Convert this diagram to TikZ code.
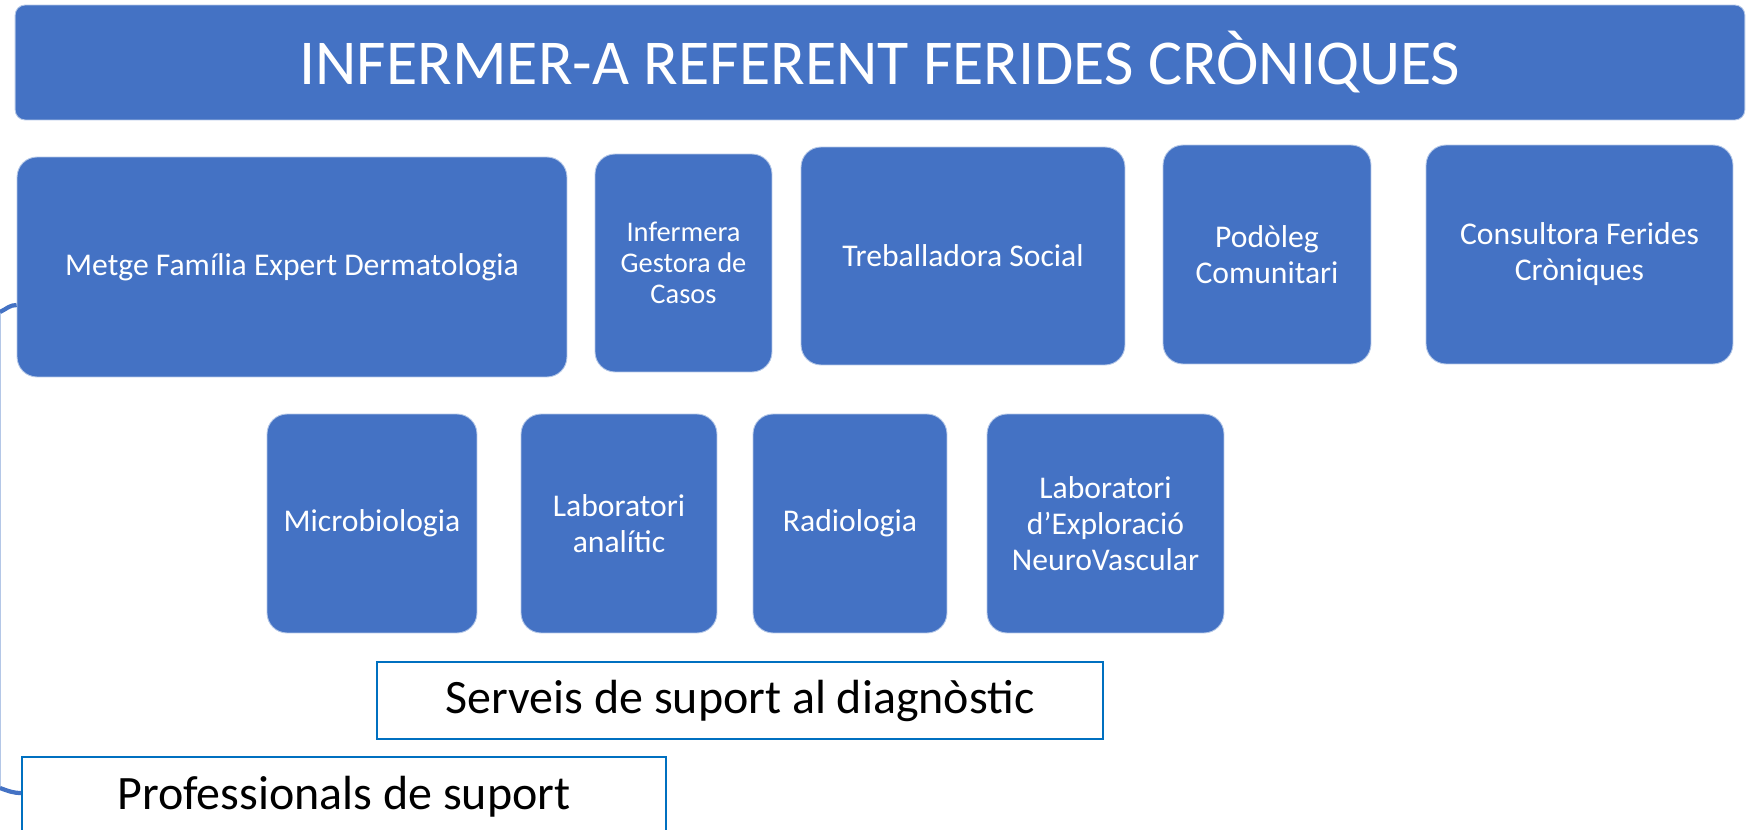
\documentclass[tikz,border=0pt]{standalone}
\usepackage{fontspec}
\setmainfont{Carlito}
\usetikzlibrary{positioning}
\definecolor{boxblue}{HTML}{4472C4}
\definecolor{edgeblue}{HTML}{0070C0}
\definecolor{paleblue}{HTML}{B4C7E7}

\begin{document}
\begin{tikzpicture}[x=0.02cm, y=-0.02cm,
  rolebox/.style={rectangle, rounded corners=0.4cm, draw=white!60!boxblue, line width=0.5pt, fill=boxblue, text=white, align=center, font=\fontsize{18}{20.5}\selectfont},
  labelbox/.style={rectangle, draw=edgeblue, line width=1pt, fill=white, font=\fontsize{27.3}{31}\selectfont},
  spine/.style={draw=paleblue, line width=1.2pt},
  stub/.style={draw=boxblue, line width=2.4pt}]
\clip (0,0) rectangle (1754,830);

% Title bar
\node[rectangle, rounded corners=0.2cm, draw=white!60!boxblue, line width=0.5pt, fill=boxblue, text=white, minimum width=34.6cm, minimum height=2.3cm, font=\fontsize{36.4}{42}\selectfont] (title) at (880,62.5) {INFERMER-A REFERENT FERIDES CRÒNIQUES};

% First row - professionals
\node[rolebox, minimum width=11cm, minimum height=4.4cm] (metge) at (292,267) {Metge Família Expert Dermatologia};
\node[rolebox, minimum width=3.54cm, minimum height=4.36cm, font=\fontsize{16.2}{17.8}\selectfont] (gestora) at (683.5,263) {Infermera\\Gestora de\\Casos};
\node[rolebox, minimum width=6.48cm, minimum height=4.36cm] (social) at (963,256) {Treballadora Social};
\node[rolebox, minimum width=4.16cm, minimum height=4.38cm] (podoleg) at (1267,254.5) {Podòleg\\Comunitari};
\node[rolebox, minimum width=6.14cm, minimum height=4.38cm] (consultora) at (1579.5,254.5) {Consultora Ferides\\Cròniques};

% Second row - diagnostic services
\node[rolebox, minimum width=4.2cm, minimum height=4.38cm] (micro) at (372,523.5) {Microbiologia};
\node[rolebox, minimum width=3.92cm, minimum height=4.38cm] (analitic) at (619,523.5) {Laboratori\\analític};
\node[rolebox, minimum width=3.88cm, minimum height=4.38cm] (radio) at (850,523.5) {Radiologia};
\node[rolebox, minimum width=4.74cm, minimum height=4.38cm] (neuro) at (1105.5,523.5) {Laboratori\\d’Exploració\\NeuroVascular};

% Group labels
\node[labelbox, minimum width=14.52cm, minimum height=1.54cm] (serveis) at (740,700.5) {Serveis de suport al diagnòstic};
\node[labelbox, minimum width=12.88cm, minimum height=1.6cm] (suport) at (344,797) {Professionals de suport};

% Left connector
\coordinate (ltop) at (0,312);
\coordinate (lbot) at (0,788);
\coordinate (mtip) at (0,305);
\coordinate (stip) at (0,793);
\draw[spine] (ltop) -- (lbot);
\draw[stub] (ltop) to[out=25,in=180] (metge.west |- mtip);
\draw[stub] (lbot) to[out=-20,in=180] (suport.west |- stip);
\end{tikzpicture}
\end{document}
